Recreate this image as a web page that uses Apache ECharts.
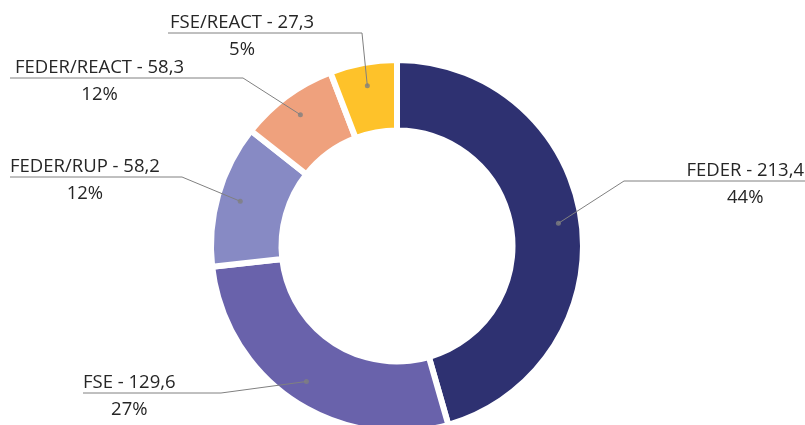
<!DOCTYPE html>
<html>
<head>
<meta charset="utf-8">
<script src="https://cdn.jsdelivr.net/npm/echarts@6/dist/echarts.min.js"></script>
<style>
    html, body {margin: 0; padding: 0; background: #fff;}
    #chart {width: 805px; height: 425px;}
</style>
</head>
<body>
<div id="chart"></div>
<script>
// data
var names = ['FEDER', 'FSE', 'FEDER/RUP', 'FEDER/REACT', 'FSE/REACT']
var amounts = [213.4, 129.6, 58.2, 58.3, 27.3]   // numbers written in the labels
var pcts = ['44%', '27%', '12%', '12%', '5%']
// slice sizes as drawn (the FEDER/REACT slice is drawn smaller than its label says)
var sliceValues = [213.4, 129.6, 58.2, 40, 27.3]

var colors = ['#2e3171', '#6962ab', '#878ac4', '#efa17d', '#fec22a']
var font = 'Open Sans'

// where each label sits: text x, line y, elbow x, end of the line
var labelPos = [
    {x: 804, align: 'right', y: 181, elbow: 624, end: 805},
    {x: 83, align: 'left', y: 393, elbow: 221, end: 83},
    {x: 10, align: 'left', y: 177, elbow: 182, end: 10},
    {x: 15, align: 'left', y: 78, elbow: 243, end: 10},
    {x: 170, align: 'left', y: 33, elbow: 362, end: 168}
]

var W = 805, H = 425
var center = [397, 246]
var dotR = 163

var total = 0
sliceValues.forEach(function (v) { total += v })

function fmt(v) {
    return v.toFixed(1).replace('.', ',')
}

var pieData = names.map(function (n, i) {
    return {name: n, value: sliceValues[i], itemStyle: {color: colors[i]}}
})

// grey dots in the middle of each slice, also the start of the leader lines
var dots = []
var leaders = []
var acc = 0
sliceValues.forEach(function (v, i) {
    var mid = acc + v / 2
    dots.push([dotR, mid])
    var a = Math.PI / 2 - mid / total * Math.PI * 2
    var p0 = [center[0] + dotR * Math.cos(a), center[1] - dotR * Math.sin(a)]
    var lp = labelPos[i]
    leaders.push({coords: [p0, [lp.elbow, lp.y], [lp.end, lp.y]]})
    acc += v
})

var myChart = echarts.init(document.getElementById('chart'))

var option = {
    animation: false,
    // full-size hidden grid, used only for the leader lines
    grid: {left: 0, right: 0, top: 0, bottom: 0},
    xAxis: {type: 'value', min: 0, max: W, show: false},
    yAxis: {type: 'value', min: 0, max: H, inverse: true, show: false},
    polar: {center: center, radius: 186},
    angleAxis: {type: 'value', min: 0, max: total, startAngle: 90, clockwise: true, show: false},
    radiusAxis: {type: 'value', min: 0, max: 186, show: false},
    series: [{
        type: 'pie',
        center: center,
        radius: [115.5, 186],
        startAngle: 90,
        clockwise: true,
        silent: true,
        avoidLabelOverlap: false,
        data: pieData,
        itemStyle: {borderColor: '#fff', borderWidth: 6},
        label: {
            show: true,
            position: 'outside',
            formatter: function (p) {
                var i = p.dataIndex
                return '{n|' + names[i] + ' - ' + fmt(amounts[i]) + '}\n{p|' + pcts[i] + '}'
            },
            rich: {
                n: {fontFamily: font, fontSize: 18.5, color: '#262626', lineHeight: 24},
                p: {fontFamily: font, fontSize: 18.5, color: '#262626', lineHeight: 30, align: 'center'}
            }
        },
        labelLine: {show: false},
        labelLayout: function (params) {
            var lp = labelPos[params.dataIndex]
            return {x: lp.x, y: lp.y + 5, align: lp.align, verticalAlign: 'middle'}
        }
    }, {
        type: 'lines',
        coordinateSystem: 'cartesian2d',
        polyline: true,
        silent: true,
        z: 4,
        lineStyle: {color: '#808080', width: 1, opacity: 1},
        data: leaders
    }, {
        type: 'scatter',
        coordinateSystem: 'polar',
        silent: true,
        z: 5,
        symbolSize: 5,
        itemStyle: {color: '#808080'},
        data: dots
    }]
}

myChart.setOption(option)
</script>
</body>
</html>
